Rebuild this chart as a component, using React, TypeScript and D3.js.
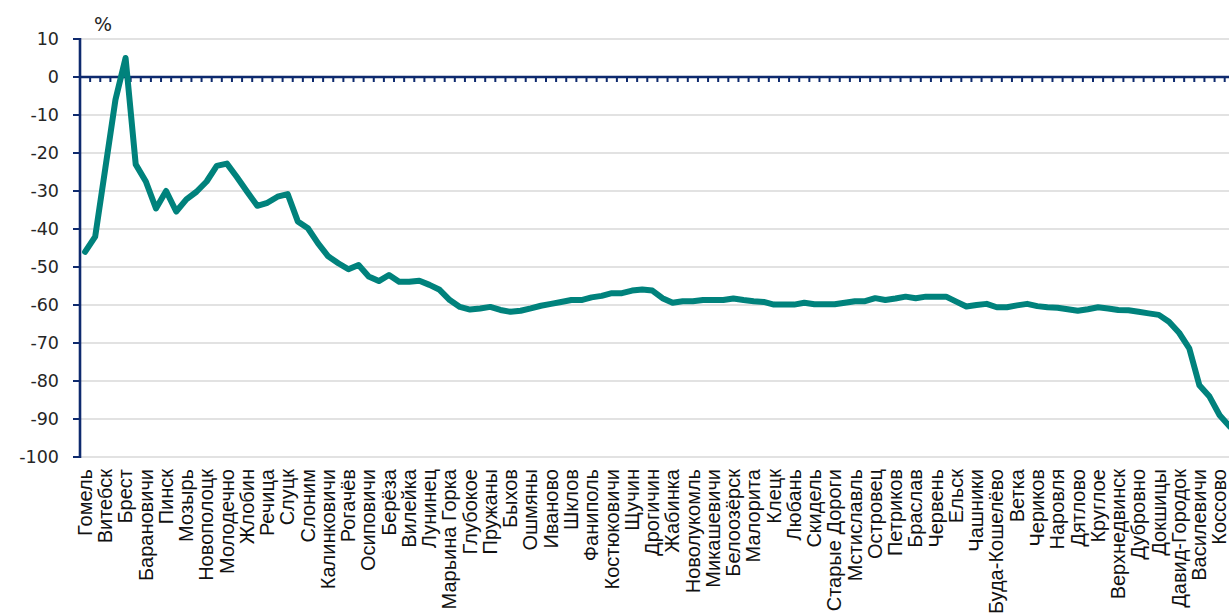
import React from "react";
import * as d3 from "d3";

const tickLabels: string[] = [
  "Гомель", "Витебск", "Брест", "Барановичи", "Пинск", "Мозырь", "Новополоцк", "Молодечно",
  "Жлобин", "Речица", "Слуцк", "Слоним", "Калинковичи", "Рогачёв", "Осиповичи", "Берёза",
  "Вилейка", "Лунинец", "Марьина Горка", "Глубокое", "Пружаны", "Быхов", "Ошмяны", "Иваново",
  "Шклов", "Фаниполь", "Костюковичи", "Щучин", "Дрогичин", "Жабинка", "Новолукомль", "Микашевичи",
  "Белоозёрск", "Малорита", "Клецк", "Любань", "Скидель", "Старые Дороги", "Мстиславль", "Островец",
  "Петриков", "Браслав", "Червень", "Ельск", "Чашники", "Буда-Кошелёво", "Ветка", "Чериков",
  "Наровля", "Дятлово", "Круглое", "Верхнедвинск", "Дубровно", "Докшицы", "Давид-Городок", "Василевичи",
  "Коссово",
];

const values: number[] = [
  -46, -42, -24, -6, 5, -23, -27.5, -34.6, -30, -35.4,
  -32.2, -30.2, -27.5, -23.4, -22.8, -26.4, -30.2, -33.9, -33.1, -31.5,
  -30.8, -38, -39.8, -43.8, -47.2, -49, -50.6, -49.5, -52.5, -53.7,
  -52.1, -53.9, -53.9, -53.6, -54.7, -56, -58.7, -60.5, -61.2, -60.9,
  -60.5, -61.3, -61.8, -61.5, -60.9, -60.2, -59.7, -59.2, -58.7, -58.7,
  -58, -57.6, -56.9, -56.9, -56.2, -55.9, -56.2, -58.2, -59.4, -59,
  -59, -58.7, -58.7, -58.7, -58.3, -58.7, -59, -59.2, -59.9, -59.9,
  -59.9, -59.4, -59.8, -59.8, -59.8, -59.4, -59, -59, -58.2, -58.7,
  -58.3, -57.8, -58.2, -57.8, -57.8, -57.8, -59.1, -60.4, -60, -59.7,
  -60.6, -60.6, -60.1, -59.7, -60.3, -60.6, -60.7, -61.1, -61.5, -61.1,
  -60.6, -60.9, -61.3, -61.4, -61.8, -62.2, -62.6, -64.4, -67.3, -71.4,
  -81.1, -84.1, -89, -92,
];

const yTicks: number[] = [10, 0, -10, -20, -30, -40, -50, -60, -70, -80, -90, -100];

const W = 1229;
const H = 615;
const NAVY = "#0e2a6e";
const TEAL = "#00827c";

export default function App() {
  const n = values.length;
  const left = 80;
  const step = 10.13;
  const x = d3
    .scaleBand<number>()
    .domain(d3.range(n))
    .range([left, left + step * n])
    .paddingInner(0)
    .paddingOuter(0);
  const y = d3.scaleLinear().domain([-100, 10]).range([457, 39]);
  const cx = (i: number) => (x(i) as number) + x.bandwidth() / 2;

  const line = d3
    .line<number>()
    .x((_, i) => cx(i))
    .y((d) => y(d));

  const rightEnd = left + step * n;

  return (
    <svg
      width={W}
      height={H}
      style={{ position: "absolute", left: 0, top: 0, background: "#fff" }}
    >
      {yTicks.map((t) => (
        <line
          key={"g" + t}
          x1={left}
          x2={rightEnd}
          y1={y(t)}
          y2={y(t)}
          stroke="#d9d9d9"
          strokeWidth={1.6}
        />
      ))}
      <line x1={left} x2={rightEnd} y1={y(0)} y2={y(0)} stroke={NAVY} strokeWidth={2.6} />
      {d3.range(1, n + 1).map((k) => (
        <line
          key={"xt" + k}
          x1={left + step * k}
          x2={left + step * k}
          y1={y(0)}
          y2={y(0) + 5}
          stroke={NAVY}
          strokeWidth={2}
        />
      ))}
      <line x1={left} x2={left} y1={y(10) - 1} y2={y(-100) + 1} stroke={NAVY} strokeWidth={2.6} />
      {yTicks.map((t) => (
        <g key={"yt" + t}>
          <line x1={left - 7} x2={left} y1={y(t)} y2={y(t)} stroke={NAVY} strokeWidth={2} />
          <text
            x={59}
            y={y(t)}
            dy="0.36em"
            textAnchor="end"
            fontFamily="DejaVu Sans, Verdana, sans-serif"
            fontSize={17.5}
            fill="#262626"
          >
            {t}
          </text>
        </g>
      ))}
      <text
        x={103}
        y={31}
        textAnchor="middle"
        fontFamily="DejaVu Sans, Verdana, sans-serif"
        fontSize={19}
        fill="#262626"
      >
        %
      </text>
      <path
        d={line(values) || ""}
        fill="none"
        stroke={TEAL}
        strokeWidth={6}
        strokeLinejoin="round"
        strokeLinecap="round"
      />
      {tickLabels.map((lab, j) => {
        const i = j * 2;
        return (
          <text
            key={"xl" + j}
            transform={`translate(${cx(i) - 0.5},${469}) rotate(-90)`}
            dy="0.36em"
            textAnchor="end"
            fontFamily="Liberation Sans, Arial, sans-serif"
            fontSize={20}
            fill="#111"
          >
            {lab}
          </text>
        );
      })}
    </svg>
  );
}
